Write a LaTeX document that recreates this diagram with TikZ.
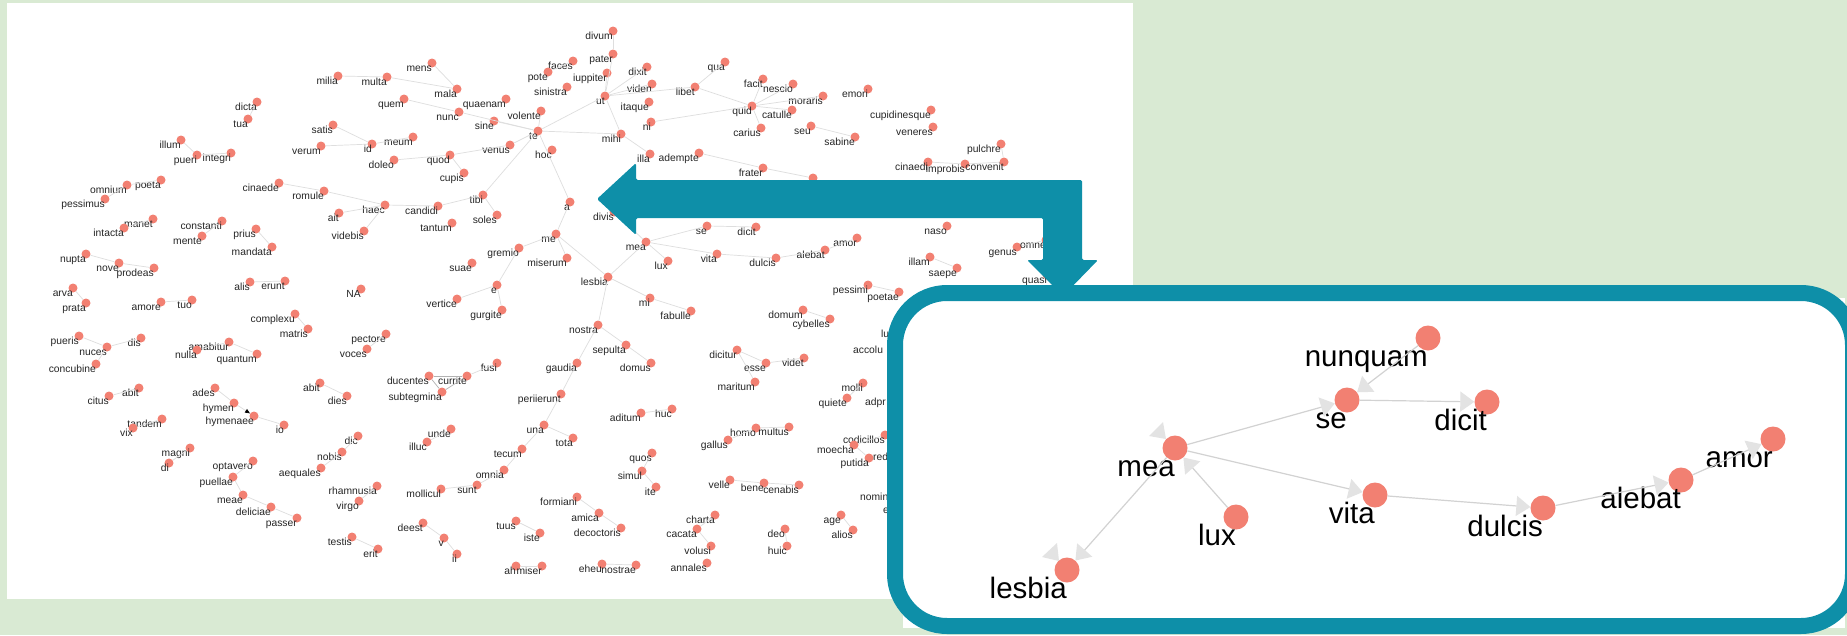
\documentclass[tikz,border=0pt]{standalone}
\usepackage{fontspec}
\setmainfont{Liberation Sans}
\usetikzlibrary{arrows.meta}
\definecolor{bggreen}{RGB}{217,234,211}
\definecolor{tealc}{RGB}{14,143,168}
\definecolor{salmon}{RGB}{242,128,114}
\definecolor{edgegray}{RGB}{222,222,222}
\newcommand\wn[4]{\node[dot] (#1) at (#2,#3) {};\node[lab] (#1-t) at (#2,#3) {#4};}
\newcommand\bn[4]{\node[bigdot] (#1) at (#2,#3) {};\node[biglab] (#1-t) at (#2,#3) {#4};}
\newcommand\ptxt[4]{\node[plab] (#1) at (#2,#3) {#4};}
\begin{document}
\begin{tikzpicture}[x=1pt,y=-1pt,
  dot/.style={circle,fill=salmon,inner sep=0pt,minimum size=9pt},
  lab/.style={anchor=base east,inner sep=0pt,font=\fontsize{10.3}{11}\selectfont,text=black!85,yshift=-8pt},
  plab/.style={anchor=base west,inner sep=0pt,font=\fontsize{10.3}{11}\selectfont,text=black!85},
  edge/.style={draw=edgegray,line width=0.7pt},
  darkedge/.style={draw=gray!60,line width=0.7pt},
  bigdot/.style={circle,fill=salmon,inner sep=0pt,minimum size=25pt},
  biglab/.style={anchor=base east,inner sep=0pt,font=\fontsize{29.5}{31}\selectfont,text=black,yshift=-28pt},
  bigedge/.style={draw=gray!35,line width=1.2pt,-{Triangle[length=14pt,width=20pt,color=gray!22]}},
  ghost/.style={fill=gray!22}]
\useasboundingbox (0,0) rectangle (1847,635);
\clip (0,0) rectangle (1847,635);
\fill[bggreen] (0,0) rectangle (1847,635);
\fill[white] (7,3) rectangle (1133,599);
% ---------------- left network: nodes
\wn{milia}{338}{76}{milia}
\wn{multa}{387}{77}{multa}
\wn{mens}{432}{63}{mens}
\wn{mala}{457}{89}{mala}
\wn{quem}{404}{99}{quem}
\wn{quaenam}{506}{99}{quaenam}
\wn{nunc}{459}{112}{nunc}
\wn{sine}{494}{121}{sine}
\wn{volente}{541}{111}{volente}
\wn{dicta}{257}{102}{dicta}
\wn{tua}{248}{119}{tua}
\wn{satis}{333}{125}{satis}
\wn{illum}{181}{140}{illum}
\wn{verum}{321}{146}{verum}
\wn{id}{372}{144}{id}
\wn{meum}{413}{137}{meum}
\wn{doleo}{394}{160}{doleo}
\wn{quod}{450}{155}{quod}
\wn{venus}{510}{145}{venus}
\wn{te}{538}{131}{te}
\wn{hoc}{552}{150}{hoc}
\wn{cupis}{464}{173}{cupis}
\wn{pueri}{197}{155}{pueri}
\wn{integri}{231}{153}{integri}
\wn{cinaede}{279}{183}{cinaede}
\wn{poeta}{161}{180}{poeta}
\wn{omnium}{127}{185}{omnium}
\wn{romule}{324}{191}{romule}
\wn{pessimus}{105}{199}{pessimus}
\wn{tibi}{483}{195}{tibi}
\wn{divum}{613}{31}{divum}
\wn{pater}{613}{54}{pater}
\wn{faces}{573}{61}{faces}
\wn{pote}{548}{72}{pote}
\wn{iuppiter}{607}{73}{iuppiter}
\wn{sinistra}{567}{87}{sinistra}
\wn{ut}{605}{96}{ut}
\wn{dixit}{647}{67}{dixit}
\wn{viden}{652}{84}{viden}
\wn{libet}{695}{87}{libet}
\wn{itaque}{649}{102}{itaque}
\wn{ni}{651}{122}{ni}
\wn{mihi}{621}{134}{mihi}
\wn{illa}{650}{154}{illa}
\wn{adempte}{699}{153}{adempte}
\wn{qua}{725}{62}{qua}
\wn{quid}{752}{106}{quid}
\wn{carius}{761}{128}{carius}
\wn{frater}{763}{168}{frater}
\wn{facit}{763}{79}{facit}
\wn{nescio}{793}{84}{nescio}
\wn{moraris}{823}{96}{moraris}
\wn{emori}{868}{89}{emori}
\wn{catulle}{792}{110}{catulle}
\wn{seu}{811}{126}{seu}
\wn{sabine}{855}{137}{sabine}
\wn{cupidinesque}{931}{110}{cupidinesque}
\wn{veneres}{933}{127}{veneres}
\wn{pulchre}{1001}{144}{pulchre}
\wn{cinaedi}{928}{162}{cinaedi}
\wn{improbis}{965}{164}{improbis}
\wn{convenit}{1004}{162}{convenit}
\node[dot] (dotA) at (813,178) {};
\wn{aA}{570}{202}{a}
\wn{haec}{385}{205}{haec}
\wn{candidi}{438}{206}{candidi}
\wn{tantum}{452}{223}{tantum}
\wn{soles}{497}{215}{soles}
\wn{ait}{339}{213}{ait}
\wn{videbis}{364}{231}{videbis}
\wn{manet}{153}{219}{manet}
\wn{intacta}{124}{228}{intacta}
\wn{constanti}{222}{221}{constanti}
\wn{mente}{202}{236}{mente}
\wn{prius}{256}{229}{prius}
\wn{mandata}{272}{247}{mandata}
\wn{nupta}{86}{254}{nupta}
\wn{nove}{119}{263}{nove}
\wn{prodeas}{154}{268}{prodeas}
\wn{alis}{250}{282}{alis}
\wn{erunt}{285}{281}{erunt}
\wn{NA}{361}{289}{NA}
\wn{arva}{73}{288}{arva}
\wn{prata}{86}{303}{prata}
\wn{amore}{161}{302}{amore}
\wn{tuo}{192}{300}{tuo}
\wn{complexu}{295}{314}{complexu}
\wn{matris}{308}{329}{matris}
\wn{pueris}{79}{336}{pueris}
\wn{nuces}{107}{347}{nuces}
\wn{dis}{141}{338}{dis}
\wn{amabitur}{229}{342}{amabitur}
\wn{nulla}{197}{350}{nulla}
\wn{quantum}{257}{354}{quantum}
\wn{pectore}{386}{334}{pectore}
\wn{voces}{367}{349}{voces}
\wn{concubine}{96}{364}{concubine}
\wn{abitA}{139}{388}{abit}
\wn{citus}{109}{396}{citus}
\wn{ades}{215}{388}{ades}
\wn{abitB}{320}{383}{abit}
\wn{dies}{347}{396}{dies}
\wn{hymen}{234}{403}{hymen}
\wn{hymenaee}{254}{416}{hymenaee}
\wn{io}{284}{425}{io}
\wn{tandem}{162}{419}{tandem}
\wn{vix}{133}{428}{vix}
\wn{magni}{190}{448}{magni}
\wn{di}{169}{463}{di}
\wn{dic}{358}{436}{dic}
\wn{nobis}{342}{452}{nobis}
\wn{aequales}{321}{468}{aequales}
\wn{optavero}{253}{461}{optavero}
\wn{puellae}{233}{477}{puellae}
\wn{meae}{243}{495}{meae}
\wn{rhamnusia}{377}{486}{rhamnusia}
\wn{virgo}{359}{501}{virgo}
\wn{deliciae}{271}{507}{deliciae}
\wn{passer}{297}{518}{passer}
\wn{testis}{352}{537}{testis}
\wn{erit}{378}{549}{erit}
\wn{divis}{614}{212}{divis}
\wn{me}{556}{234}{me}
\wn{gremio}{519}{248}{gremio}
\wn{miserum}{567}{258}{miserum}
\wn{suae}{472}{263}{suae}
\wn{e}{497}{285}{e}
\wn{vertice}{457}{299}{vertice}
\wn{gurgite}{502}{310}{gurgite}
\wn{mea}{646}{242}{mea}
\wn{se}{707}{226}{se}
\wn{dicit}{756}{227}{dicit}
\wn{lux}{668}{261}{lux}
\wn{vita}{717}{254}{vita}
\wn{dulcis}{776}{258}{dulcis}
\wn{alebat}{825}{250}{alebat}
\wn{amor}{857}{238}{amor}
\wn{lesbia}{608}{277}{lesbia}
\wn{mi}{650}{298}{mi}
\wn{fabulle}{691}{311}{fabulle}
\wn{nostra}{598}{325}{nostra}
\wn{sepulta}{626}{345}{sepulta}
\wn{domus}{651}{363}{domus}
\wn{gaudia}{577}{363}{gaudia}
\wn{fusi}{497}{363}{fusi}
\wn{ducentes}{429}{376}{ducentes}
\wn{currite}{467}{376}{currite}
\wn{subtegmina}{442}{392}{subtegmina}
\wn{periierunt}{561}{394}{periierunt}
\wn{dicitur}{737}{350}{dicitur}
\wn{esse}{766}{363}{esse}
\wn{videt}{804}{358}{videt}
\wn{maritum}{755}{382}{maritum}
\wn{naso}{947}{226}{naso}
\wn{illam}{930}{257}{illam}
\wn{saepe}{957}{268}{saepe}
\wn{genus}{1017}{247}{genus}
\wn{omne}{1046}{240}{omne}
\wn{quasi}{1047}{275}{quasi}
\wn{pessimi}{868}{285}{pessimi}
\wn{poetae}{899}{292}{poetae}
\wn{domum}{803}{310}{domum}
\wn{cybelles}{830}{319}{cybelles}
\wn{molli}{863}{383}{molli}
\wn{quiete}{847}{398}{quiete}
\wn{aditum}{641}{413}{aditum}
\wn{huc}{672}{409}{huc}
\wn{unde}{451}{429}{unde}
\wn{illuc}{427}{442}{illuc}
\wn{una}{544}{425}{una}
\wn{tota}{573}{438}{tota}
\wn{tecum}{522}{449}{tecum}
\wn{omnia}{504}{470}{omnia}
\wn{quos}{652}{453}{quos}
\wn{simul}{642}{471}{simul}
\wn{ite}{656}{487}{ite}
\wn{homo}{756}{428}{homo}
\wn{multus}{789}{427}{multus}
\wn{gallus}{728}{440}{gallus}
\wn{codicillos}{885}{435}{codicillos}
\wn{moecha}{854}{445}{moecha}
\wn{putida}{869}{458}{putida}
\wn{velle}{730}{480}{velle}
\wn{bene}{764}{483}{bene}
\wn{cenabis}{799}{485}{cenabis}
\wn{sunt}{477}{485}{sunt}
\wn{mollicul}{441}{489}{mollicul}
\wn{formiani}{577}{497}{formiani}
\wn{amica}{599}{513}{amica}
\wn{decoctoris}{621}{528}{decoctoris}
\wn{charta}{715}{515}{charta}
\wn{cacata}{697}{529}{cacata}
\wn{deest}{423}{523}{deest}
\wn{v}{444}{538}{v}
\wn{ii}{457}{554}{ii}
\wn{tuus}{516}{521}{tuus}
\wn{iste}{540}{533}{iste}
\wn{volusi}{711}{546}{volusi}
\wn{ah}{516}{566}{ah}
\wn{miser}{542}{566}{miser}
\wn{eheu}{602}{564}{eheu}
\wn{nostrae}{636}{565}{nostrae}
\wn{annales}{707}{563}{annales}
\wn{age}{841}{515}{age}
\wn{alios}{853}{530}{alios}
\wn{deo}{785}{529}{deo}
\wn{huic}{787}{546}{huic}
\ptxt{plu}{881}{337}{lu}
\ptxt{paccolu}{853}{353}{accolu}
\ptxt{padpr}{865}{405}{adpr}
\ptxt{pred}{873}{460}{red}
\ptxt{pnomin}{860}{500}{nomin}
\ptxt{pe}{883}{513}{e}
% ---------------- left network: edges
\foreach \a/\b in {milia/multa,multa/mala,mens/mala,quem/nunc,nunc/te,sine/te,volente/te,venus/te,
  satis/id,verum/id,id/meum,doleo/quod,quod/venus,quod/cupis,te/ut,te/mihi,te/aA,te/tibi,
  ut/pater,pater/divum,ut/iuppiter,ut/viden,ut/dixit,ut/mihi,faces/pote,ut/libet,libet/qua,libet/quid,
  ni/quid,quid/facit,quid/nescio,quid/catulle,quid/moraris,quid/carius,seu/sabine,mihi/illa,adempte/frater,
  frater/dotA,cinaedi/improbis,improbis/convenit,pulchre/convenit,
  aA/me,me/gremio,gremio/e,e/gurgite,e/vertice,me/miserum,me/lesbia,lesbia/mea,mea/se,se/dicit,mea/lux,
  mea/vita,vita/dulcis,dulcis/alebat,alebat/amor,lesbia/mi,mi/fabulle,lesbia/nostra,nostra/sepulta,
  sepulta/domus,nostra/gaudia,gaudia/periierunt,periierunt/una,una/tota,una/tecum,tecum/omnia,omnia/sunt,
  sunt/mollicul,divis/mea,tibi/candidi,candidi/haec,haec/ait,haec/videbis,tibi/soles,romule/haec,
  cinaede/romule,constanti/mente,prius/mandata,nupta/nove,nove/prodeas,arva/prata,amore/tuo,alis/erunt,
  complexu/matris,pueris/nuces,nuces/dis,nuces/concubine,nulla/amabitur,amabitur/quantum,pectore/voces,
  abitA/citus,ades/hymen,hymenaee/io,abitB/dies,tandem/vix,magni/di,dic/nobis,nobis/aequales,
  optavero/puellae,puellae/meae,meae/deliciae,deliciae/passer,rhamnusia/virgo,testis/erit,currite/fusi,
  unde/illuc,deest/v,v/ii,tuus/iste,formiani/amica,amica/decoctoris,ah/miser,eheu/nostrae,quos/simul,
  simul/ite,aditum/huc,homo/multus,gallus/homo,velle/bene,bene/cenabis,charta/cacata,cacata/volusi,
  deo/huic,age/alios,moecha/codicillos,moecha/putida,molli/quiete,domum/cybelles,pessimi/poetae,
  illam/saepe,dicitur/esse,esse/videt,dicitur/maritum,intacta/manet,omnium/poeta,omnium/pessimus,
  dicta/tua,illum/pueri,pueri/integri,genus/omne}
  {\draw[edge] (\a) -- (\b);}
\draw[darkedge] (ducentes) -- (currite);
\draw[darkedge] (currite) -- (subtegmina);
\draw[darkedge] (ducentes) -- (subtegmina);
\draw[edge,-{Triangle[length=5pt,width=4pt,color=black]}] (hymen) -- (hymenaee);
% ---------------- teal arrow
\fill[tealc,rounded corners=1.5pt] (597,199) -- (636,163) -- (636,180) -- (1082,180) -- (1082,260)
  -- (1098,260) -- (1063,296) -- (1027,260) -- (1043,260) -- (1043,218) -- (636,218) -- (636,235) -- cycle;
% ---------------- inset
\fill[white] (903,298) rectangle (1845,628);
\draw[tealc,line width=16pt,rounded corners=52pt] (895,293) rectangle (1853,626);
\bn{Imea}{1175}{448}{mea}
\bn{Ilux}{1236}{517}{lux}
\bn{Ilesbia}{1067}{570}{lesbia}
\bn{Ise}{1347}{400}{se}
\bn{Inunquam}{1428}{338}{nunquam}
\bn{Idicit}{1487}{402}{dicit}
\bn{Ivita}{1375}{495}{vita}
\bn{Idulcis}{1543}{508}{dulcis}
\bn{Ialebat}{1681}{480}{alebat}
\bn{Iamor}{1773}{439}{amor}
\foreach \a/\b in {Imea/Ilesbia,Ilux/Imea,Imea/Ise,Inunquam/Ise,Ise/Idicit,Imea/Ivita,Ivita/Idulcis,
  Idulcis/Ialebat,Ialebat/Iamor}
  {\draw[bigedge] (\a) -- (\b);}
\fill[ghost] (1166,439) -- (1163,422) -- (1149,436) -- cycle;
\fill[ghost] (1059,561) -- (1042,557) -- (1057,543) -- cycle;
\end{tikzpicture}
\end{document}
